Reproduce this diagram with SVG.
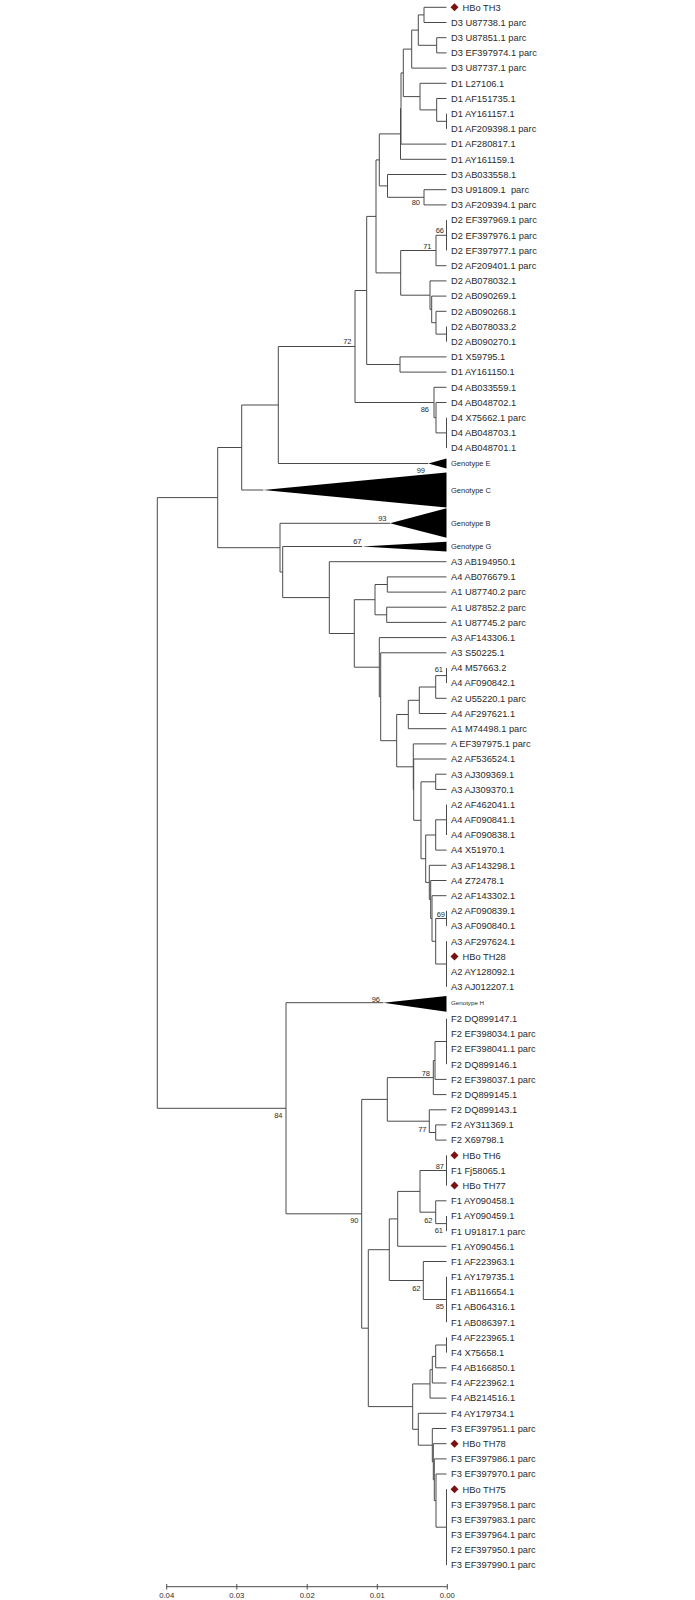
<svg xmlns="http://www.w3.org/2000/svg" width="695" height="1600" viewBox="0 0 695 1600">
<style>
.br{fill:none;stroke:#4a4a4a;stroke-width:1}
text{font-family:"Liberation Sans",Arial,sans-serif;fill:#2a2a2a}
.lf{font-size:9.3px}
.bs{font-size:7.5px;text-anchor:end}
.gt{font-size:7.5px}
.gth{font-size:6.2px}
.tri{fill:#000}
.dm{fill:#7a1212}
.ax{font-size:7.7px;text-anchor:middle}
</style>
<defs>
<path id="dia" d="M0,-4L4,0L0,4L-4,0Z"/>
</defs>
<rect width="695" height="1600" fill="#fff"/>
<g id="connectors" class="br">
<path d="M424 7.3V22.5M424 7.3H446.5M424 22.5H446.5M436.7 37.7V52.9M436.7 37.7H446.5M436.7 52.9H446.5M418.3 14.9V45.3M418.3 14.9H424M418.3 45.3H436.7M411.7 30.1V68.1M411.7 30.1H418.3M411.7 68.1H446.5"/>
<path d="M446.5 113.7V128.9M436.7 98.5V121.3M436.7 98.5H446.5M436.7 121.3H446.5M420 83.3V109.9M420 83.3H446.5M420 109.9H436.7M403.3 49.1V96.6M403.3 49.1H411.7M403.3 96.6H420M401 72.9V144.1M401 72.9H403.3M401 144.1H446.5M400.5 108.5V159.3M400.5 108.5H401M400.5 159.3H446.5"/>
<path d="M424 189.7V204.9M424 189.7H446.5M424 204.9H446.5M387.5 174.5V197.3M387.5 174.5H446.5M387.5 197.3H424M379.3 133.9V185.9M379.3 133.9H400.5M379.3 185.9H387.5"/>
<path d="M446.5 220.1V250.5M436 235.3V265.7M436 235.3H446.5M436 265.7H446.5M446.5 326.5V341.7M436 311.3V334.1M436 311.3H446.5M436 334.1H446.5M431.7 296.1V322.7M431.7 296.1H446.5M431.7 322.7H436M430 280.9V309.4M430 280.9H446.5M430 309.4H431.7M400.7 250.5V295.2M400.7 250.5H436M400.7 295.2H430M376 159.9V272.9M376 159.9H379.3M376 272.9H400.7"/>
<path d="M400 356.9V372.1M400 356.9H446.5M400 372.1H446.5M366.7 216.4V364.5M366.7 216.4H376M366.7 364.5H400M446.5 417.7V448.1M436 402.5V432.9M436 402.5H446.5M436 432.9H446.5M434 387.3V417.7M434 387.3H446.5M434 417.7H436M355 290.5V402.5M355 290.5H366.7M355 402.5H434"/>
<path d="M278.3 346.5V463.5M278.3 346.5H355M278.3 463.5H428.3M241.7 405V490M241.7 405H278.3M241.7 490H263.3M280 523.3V572M280 523.3H390M280 572H282.7M282.7 546.5V597.6M282.7 546.5H362M282.7 597.6H329.3M217.7 447.5V547.7M217.7 447.5H241.7M217.7 547.7H280"/>
<path d="M329.3 561.7V633.5M329.3 561.7H446.5M329.3 633.5H354.3M354.3 599.7V667.2M354.3 599.7H375M354.3 667.2H379.3M375 584.5V614.8M375 584.5H387.3M375 614.8H386.7M387.3 576.9V592.1M387.3 576.9H446.5M387.3 592.1H446.5M386.7 607.2V622.4M386.7 607.2H446.5M386.7 622.4H446.5"/>
<path d="M379.3 637.6V696.8M379.3 637.6H446.5M379.3 696.8H380.7M380.7 652.8V740.7M380.7 652.8H446.5M380.7 740.7H396.7M396.7 714.5V766.8M396.7 714.5H408.3M396.7 766.8H413.3M408.3 700.3V728.7M408.3 700.3H419.3M408.3 728.7H446.5M419.3 687V713.5M419.3 687H435.7M419.3 713.5H446.5M435.7 675.6V698.3M435.7 675.6H446.5M435.7 698.3H446.5M446.5 668V683.1"/>
<path d="M413.3 743.9V789.7M413.3 743.9H446.5M413.3 789.7H413.7M413.7 759V820.3M413.7 759H446.5M413.7 820.3H421M421 781.8V858.7M421 781.8H435.7M421 858.7H425.7M435.7 774.2V789.4M435.7 774.2H446.5M435.7 789.4H446.5M425.7 835V882.4M425.7 835H435.7M425.7 882.4H429.3M435.7 819.8V850.1M435.7 819.8H446.5M435.7 850.1H446.5M446.5 804.6V835"/>
<path d="M429.3 865.3V899.5M429.3 865.3H446.5M429.3 899.5H430.7M430.7 880.5V918.5M430.7 880.5H446.5M430.7 918.5H432M432 895.7V941.3M432 895.7H446.5M432 941.3H435.7M435.7 918.5V964M435.7 918.5H446.5M435.7 964H446.5M446.5 910.9V926M446.5 941.2V986.8"/>
<path d="M157.3 497.6V1108.3M157.3 497.6H217.7M157.3 1108.3H286M286 1002.7V1213.8M286 1002.7H383.3M286 1213.8H361.7M361.7 1099.4V1328.2M361.7 1099.4H387.3M361.7 1328.2H368.3"/>
<path d="M387.3 1077.6V1121.2M387.3 1077.6H433.3M387.3 1121.2H429.3M433.3 1060.5V1094.6M433.3 1060.5H435M433.3 1094.6H446.5M435 1041.5V1079.4M435 1041.5H446.5M435 1079.4H446.5M446.5 1018.7V1064.2M429.3 1109.8V1132.5M429.3 1109.8H446.5M429.3 1132.5H435.7M435.7 1124.9V1140.1M435.7 1124.9H446.5M435.7 1140.1H446.5"/>
<path d="M368.3 1249.7V1406.6M368.3 1249.7H389.3M368.3 1406.6H412.7M389.3 1218.9V1280.5M389.3 1218.9H397.7M389.3 1280.5H423.3M397.7 1191.4V1246.3M397.7 1191.4H420M397.7 1246.3H446.5M420 1170.5V1212.2M420 1170.5H446.5M420 1212.2H435.7M446.5 1155.3V1185.6M435.7 1200.8V1223.6M435.7 1200.8H446.5M435.7 1223.6H446.5M446.5 1216V1231.2M423.3 1261.5V1299.5M423.3 1261.5H446.5M423.3 1299.5H446.5M446.5 1276.7V1322.2"/>
<path d="M412.7 1383.9V1429.3M412.7 1383.9H430M412.7 1429.3H418.3M430 1369.7V1398.1M430 1369.7H432.3M430 1398.1H446.5M432.3 1356.4V1383M432.3 1356.4H435.7M432.3 1383H446.5M435.7 1345V1367.8M435.7 1345H446.5M435.7 1367.8H446.5M446.5 1337.4V1352.6"/>
<path d="M418.3 1413.3V1445.2M418.3 1413.3H446.5M418.3 1445.2H432.3M432.3 1428.5V1461.8M432.3 1428.5H446.5M432.3 1461.8H433.3M433.3 1443.7V1479.8M433.3 1443.7H446.5M433.3 1479.8H434.3M434.3 1458.9V1500.6M434.3 1458.9H446.5M434.3 1500.6H436M436 1474V1527.2M436 1474H446.5M436 1527.2H446.5M446.5 1489.2V1565.1"/>
</g>
<g id="bootstrap">
<text class="bs" x="420" y="205">80</text>
<text class="bs" x="444" y="233">66</text>
<text class="bs" x="431.5" y="249">71</text>
<text class="bs" x="351.5" y="344">72</text>
<text class="bs" x="429" y="412">86</text>
<text class="bs" x="425" y="473">99</text>
<text class="bs" x="386.5" y="520.5">93</text>
<text class="bs" x="361.5" y="544">67</text>
<text class="bs" x="443" y="672">61</text>
<text class="bs" x="445" y="916.5">69</text>
<text class="bs" x="380" y="1001.5">96</text>
<text class="bs" x="282.5" y="1118">84</text>
<text class="bs" x="430" y="1076">78</text>
<text class="bs" x="426.5" y="1131.5">77</text>
<text class="bs" x="444" y="1169">87</text>
<text class="bs" x="432.5" y="1222.5">62</text>
<text class="bs" x="443" y="1233">61</text>
<text class="bs" x="358.5" y="1223">90</text>
<text class="bs" x="420.5" y="1290.5">62</text>
<text class="bs" x="444" y="1309">85</text>
</g>
<g id="collapsed">
<g id="genotype-E"><polygon class="tri" points="428.3,463.5 446.5,458.5 446.5,468.5"/><text class="gt" x="451" y="466.2">Genotype E</text></g>
<g id="genotype-C"><polygon class="tri" points="263.3,490 446.5,472.5 446.5,507.5"/><text class="gt" x="451" y="492.7">Genotype C</text></g>
<g id="genotype-B"><polygon class="tri" points="390,523.3 446.5,508.3 446.5,537.7"/><text class="gt" x="451" y="526">Genotype B</text></g>
<g id="genotype-G"><polygon class="tri" points="362,546.5 446.5,541.7 446.5,551.5"/><text class="gt" x="451" y="548.8">Genotype G</text></g>
<g id="genotype-H"><polygon class="tri" points="383.3,1002.7 446.5,996 446.5,1011.7"/><text class="gth" x="451" y="1005">Genotype H</text></g>
</g>
<g id="leaves" class="lf">
<g id="HBo-TH3"><use href="#dia" class="dm" x="454.5" y="7.3"/><text x="462.5" y="10.6">HBo TH3</text></g>
<g id="D3-U87738"><text x="451" y="25.8">D3 U87738.1 parc</text></g>
<g id="D3-U87851"><text x="451" y="41">D3 U87851.1 parc</text></g>
<g id="D3-EF397974"><text x="451" y="56.2">D3 EF397974.1 parc</text></g>
<g id="D3-U87737"><text x="451" y="71.4">D3 U87737.1 parc</text></g>
<g id="D1-L27106"><text x="451" y="86.6">D1 L27106.1</text></g>
<g id="D1-AF151735"><text x="451" y="101.8">D1 AF151735.1</text></g>
<g id="D1-AY161157"><text x="451" y="117">D1 AY161157.1</text></g>
<g id="D1-AF209398"><text x="451" y="132.2">D1 AF209398.1 parc</text></g>
<g id="D1-AF280817"><text x="451" y="147.4">D1 AF280817.1</text></g>
<g id="D1-AY161159"><text x="451" y="162.6">D1 AY161159.1</text></g>
<g id="D3-AB033558"><text x="451" y="177.8">D3 AB033558.1</text></g>
<g id="D3-U91809"><text x="451" y="193" style="white-space:pre">D3 U91809.1  parc</text></g>
<g id="D3-AF209394"><text x="451" y="208.2">D3 AF209394.1 parc</text></g>
<g id="D2-EF397969"><text x="451" y="223.4">D2 EF397969.1 parc</text></g>
<g id="D2-EF397976"><text x="451" y="238.6">D2 EF397976.1 parc</text></g>
<g id="D2-EF397977"><text x="451" y="253.8">D2 EF397977.1 parc</text></g>
<g id="D2-AF209401"><text x="451" y="269">D2 AF209401.1 parc</text></g>
<g id="D2-AB078032"><text x="451" y="284.2">D2 AB078032.1</text></g>
<g id="D2-AB090269"><text x="451" y="299.4">D2 AB090269.1</text></g>
<g id="D2-AB090268"><text x="451" y="314.6">D2 AB090268.1</text></g>
<g id="D2-AB078033"><text x="451" y="329.8">D2 AB078033.2</text></g>
<g id="D2-AB090270"><text x="451" y="345">D2 AB090270.1</text></g>
<g id="D1-X59795"><text x="451" y="360.2">D1 X59795.1</text></g>
<g id="D1-AY161150"><text x="451" y="375.4">D1 AY161150.1</text></g>
<g id="D4-AB033559"><text x="451" y="390.6">D4 AB033559.1</text></g>
<g id="D4-AB048702"><text x="451" y="405.8">D4 AB048702.1</text></g>
<g id="D4-X75662"><text x="451" y="421">D4 X75662.1 parc</text></g>
<g id="D4-AB048703"><text x="451" y="436.2">D4 AB048703.1</text></g>
<g id="D4-AB048701"><text x="451" y="451.4">D4 AB048701.1</text></g>
<g id="A3-AB194950"><text x="451" y="565">A3 AB194950.1</text></g>
<g id="A4-AB076679"><text x="451" y="580.2">A4 AB076679.1</text></g>
<g id="A1-U87740"><text x="451" y="595.4">A1 U87740.2 parc</text></g>
<g id="A1-U87852"><text x="451" y="610.5">A1 U87852.2 parc</text></g>
<g id="A1-U87745"><text x="451" y="625.7">A1 U87745.2 parc</text></g>
<g id="A3-AF143306"><text x="451" y="640.9">A3 AF143306.1</text></g>
<g id="A3-S50225"><text x="451" y="656.1">A3 S50225.1</text></g>
<g id="A4-M57663"><text x="451" y="671.3">A4 M57663.2</text></g>
<g id="A4-AF090842"><text x="451" y="686.4">A4 AF090842.1</text></g>
<g id="A2-U55220"><text x="451" y="701.6">A2 U55220.1 parc</text></g>
<g id="A4-AF297621"><text x="451" y="716.8">A4 AF297621.1</text></g>
<g id="A1-M74498"><text x="451" y="732">A1 M74498.1 parc</text></g>
<g id="A-EF397975"><text x="451" y="747.2">A EF397975.1 parc</text></g>
<g id="A2-AF536524"><text x="451" y="762.3">A2 AF536524.1</text></g>
<g id="A3-AJ309369"><text x="451" y="777.5">A3 AJ309369.1</text></g>
<g id="A3-AJ309370"><text x="451" y="792.7">A3 AJ309370.1</text></g>
<g id="A2-AF462041"><text x="451" y="807.9">A2 AF462041.1</text></g>
<g id="A4-AF090841"><text x="451" y="823.1">A4 AF090841.1</text></g>
<g id="A4-AF090838"><text x="451" y="838.3">A4 AF090838.1</text></g>
<g id="A4-X51970"><text x="451" y="853.4">A4 X51970.1</text></g>
<g id="A3-AF143298"><text x="451" y="868.6">A3 AF143298.1</text></g>
<g id="A4-Z72478"><text x="451" y="883.8">A4 Z72478.1</text></g>
<g id="A2-AF143302"><text x="451" y="899">A2 AF143302.1</text></g>
<g id="A2-AF090839"><text x="451" y="914.2">A2 AF090839.1</text></g>
<g id="A3-AF090840"><text x="451" y="929.3">A3 AF090840.1</text></g>
<g id="A3-AF297624"><text x="451" y="944.5">A3 AF297624.1</text></g>
<g id="HBo-TH28"><use href="#dia" class="dm" x="454.5" y="956.4"/><text x="462.5" y="959.7">HBo TH28</text></g>
<g id="A2-AY128092"><text x="451" y="974.9">A2 AY128092.1</text></g>
<g id="A3-AJ012207"><text x="451" y="990.1">A3 AJ012207.1</text></g>
<g id="F2-DQ899147"><text x="451" y="1022">F2 DQ899147.1</text></g>
<g id="F2-EF398034"><text x="451" y="1037.2">F2 EF398034.1 parc</text></g>
<g id="F2-EF398041"><text x="451" y="1052.3">F2 EF398041.1 parc</text></g>
<g id="F2-DQ899146"><text x="451" y="1067.5">F2 DQ899146.1</text></g>
<g id="F2-EF398037"><text x="451" y="1082.7">F2 EF398037.1 parc</text></g>
<g id="F2-DQ899145"><text x="451" y="1097.9">F2 DQ899145.1</text></g>
<g id="F2-DQ899143"><text x="451" y="1113.1">F2 DQ899143.1</text></g>
<g id="F2-AY311369"><text x="451" y="1128.2">F2 AY311369.1</text></g>
<g id="F2-X69798"><text x="451" y="1143.4">F2 X69798.1</text></g>
<g id="HBo-TH6"><use href="#dia" class="dm" x="454.5" y="1155.3"/><text x="462.5" y="1158.6">HBo TH6</text></g>
<g id="F1-Fj58065"><text x="451" y="1173.8">F1 Fj58065.1</text></g>
<g id="HBo-TH77"><use href="#dia" class="dm" x="454.5" y="1185.6"/><text x="462.5" y="1188.9">HBo TH77</text></g>
<g id="F1-AY090458"><text x="451" y="1204.1">F1 AY090458.1</text></g>
<g id="F1-AY090459"><text x="451" y="1219.3">F1 AY090459.1</text></g>
<g id="F1-U91817"><text x="451" y="1234.5">F1 U91817.1 parc</text></g>
<g id="F1-AY090456"><text x="451" y="1249.6">F1 AY090456.1</text></g>
<g id="F1-AF223963"><text x="451" y="1264.8">F1 AF223963.1</text></g>
<g id="F1-AY179735"><text x="451" y="1280">F1 AY179735.1</text></g>
<g id="F1-AB116654"><text x="451" y="1295.2">F1 AB116654.1</text></g>
<g id="F1-AB064316"><text x="451" y="1310.4">F1 AB064316.1</text></g>
<g id="F1-AB086397"><text x="451" y="1325.5">F1 AB086397.1</text></g>
<g id="F4-AF223965"><text x="451" y="1340.7">F4 AF223965.1</text></g>
<g id="F4-X75658"><text x="451" y="1355.9">F4 X75658.1</text></g>
<g id="F4-AB166850"><text x="451" y="1371.1">F4 AB166850.1</text></g>
<g id="F4-AF223962"><text x="451" y="1386.3">F4 AF223962.1</text></g>
<g id="F4-AB214516"><text x="451" y="1401.4">F4 AB214516.1</text></g>
<g id="F4-AY179734"><text x="451" y="1416.6">F4 AY179734.1</text></g>
<g id="F3-EF397951"><text x="451" y="1431.8">F3 EF397951.1 parc</text></g>
<g id="HBo-TH78"><use href="#dia" class="dm" x="454.5" y="1443.7"/><text x="462.5" y="1447">HBo TH78</text></g>
<g id="F3-EF397986"><text x="451" y="1462.2">F3 EF397986.1 parc</text></g>
<g id="F3-EF397970"><text x="451" y="1477.3">F3 EF397970.1 parc</text></g>
<g id="HBo-TH75"><use href="#dia" class="dm" x="454.5" y="1489.2"/><text x="462.5" y="1492.5">HBo TH75</text></g>
<g id="F3-EF397958"><text x="451" y="1507.7">F3 EF397958.1 parc</text></g>
<g id="F3-EF397983"><text x="451" y="1522.9">F3 EF397983.1 parc</text></g>
<g id="F3-EF397964"><text x="451" y="1538.1">F3 EF397964.1 parc</text></g>
<g id="F2-EF397950"><text x="451" y="1553.2">F2 EF397950.1 parc</text></g>
<g id="F3-EF397990"><text x="451" y="1568.4">F3 EF397990.1 parc</text></g>
</g>
<g id="scale-axis">
<path class="br" d="M166.7 1586.7H447.3M166.7 1584V1589.5M236.8 1584V1589.5M307.2 1584V1589.5M377.3 1584V1589.5M447.3 1584V1589.5"/>
<text class="ax" x="166.7" y="1597.5">0.04</text>
<text class="ax" x="236.8" y="1597.5">0.03</text>
<text class="ax" x="307.2" y="1597.5">0.02</text>
<text class="ax" x="377.3" y="1597.5">0.01</text>
<text class="ax" x="447.3" y="1597.5">0.00</text>
</g>
</svg>
